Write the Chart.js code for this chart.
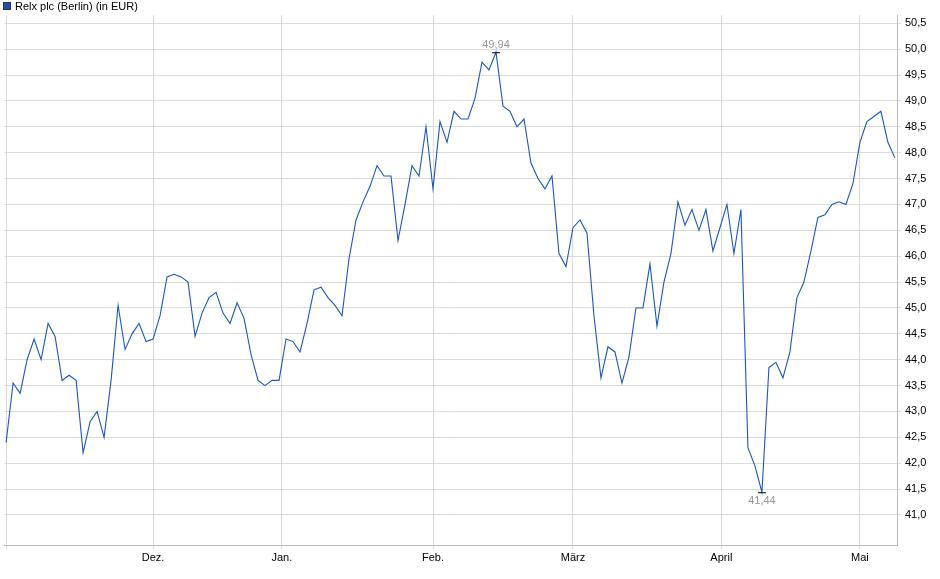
<!DOCTYPE html>
<html><head><meta charset="utf-8">
<script src="https://cdn.jsdelivr.net/npm/chart.js@4/dist/chart.umd.min.js"></script>
<style>html,body{margin:0;padding:0;background:#fff}#w{width:940px;height:579px}</style>
</head><body><div id="w"><canvas id="c"></canvas></div>
<script>
const seriesName = "Relx plc (Berlin) (in EUR)";
const prices = [42.4,43.55,43.35,44.0,44.4,44.0,44.7,44.45,43.6,43.7,43.6,42.2,42.8,43.0,42.5,43.6,45.05,44.2,44.5,44.7,44.35,44.4,44.85,45.6,45.65,45.6,45.5,44.45,44.9,45.2,45.3,44.9,44.7,45.1,44.8,44.1,43.6,43.5,43.6,43.6,44.4,44.35,44.15,44.7,45.35,45.4,45.2,45.05,44.85,45.95,46.7,47.05,47.35,47.75,47.55,47.55,46.3,47.0,47.75,47.55,48.5,47.3,48.6,48.2,48.8,48.65,48.65,49.05,49.75,49.6,49.94,48.9,48.8,48.5,48.65,47.8,47.5,47.3,47.55,46.05,45.8,46.55,46.7,46.45,44.85,43.65,44.25,44.15,43.55,44.05,45.0,45.0,45.85,44.65,45.5,46.05,47.05,46.6,46.9,46.5,46.9,46.1,46.55,47.0,46.05,46.9,42.3,41.95,41.44,43.85,43.95,43.65,44.15,45.2,45.5,46.1,46.75,46.8,47.0,47.05,47.0,47.4,48.2,48.6,48.7,48.8,48.2,47.9];
const monthLabels = ["","Dez.","Jan.","Feb.","März","April","Mai"];
const monthIndex = [0,21,39.4,61,81,102.2,122];
const yTicks = [41.0,41.5,42.0,42.5,43.0,43.5,44.0,44.5,45.0,45.5,46.0,46.5,47.0,47.5,48.0,48.5,49.0,49.5,50.0,50.5];
const maxLabel = "49,94", minLabel = "41,44";
const FONT = "'Liberation Sans', Arial, sans-serif";

const pts = prices.map((v,i)=>({x:i,y:v}));
const extremes = {
  id:'extremes',
  afterDatasetsDraw(ch){
    const ctx=ch.ctx, xs=ch.scales.x, ys=ch.scales.y;
    const iMax=prices.indexOf(Math.max(...prices)), iMin=prices.indexOf(Math.min(...prices));
    ctx.save();
    ctx.font="11px "+FONT; ctx.textAlign='center'; ctx.fillStyle='#999';
    ctx.strokeStyle='#000'; ctx.lineWidth=1;
    let x=xs.getPixelForValue(iMax), y=ys.getPixelForValue(prices[iMax]);
    ctx.beginPath(); ctx.moveTo(x-4,y+0.5); ctx.lineTo(x+4,y+0.5); ctx.stroke();
    ctx.textBaseline='bottom'; ctx.fillText(maxLabel,x,y-2);
    x=xs.getPixelForValue(iMin); y=ys.getPixelForValue(prices[iMin]);
    ctx.beginPath(); ctx.moveTo(x-4,y+0.5); ctx.lineTo(x+4,y+0.5); ctx.stroke();
    ctx.textBaseline='top'; ctx.fillText(minLabel,x,y+3);
    ctx.fillStyle='#1f4fb4'; ctx.fillRect(3,2,8,8);
    ctx.strokeStyle='#333'; ctx.strokeRect(3.5,2.5,7,7);
    ctx.fillStyle='#000'; ctx.textAlign='left'; ctx.textBaseline='middle';
    ctx.fillText(seriesName,15,6.5);
    ctx.restore();
  }
};
new Chart(document.getElementById('c'),{
  type:'line',
  data:{datasets:[{data:pts,borderColor:'#1a56c4',borderWidth:1.1,pointRadius:0,tension:0,fill:false}]},
  options:{
    responsive:true,maintainAspectRatio:false,animation:false,
    layout:{padding:{top:15,left:4,bottom:14,right:0}},
    plugins:{legend:{display:false},tooltip:{enabled:false}},
    scales:{
      x:{type:'linear',min:-0.3,max:prices.length-0.7,
        afterBuildTicks(s){s.ticks=monthIndex.map(v=>({value:v}));},
        afterFit(s){s.height=20;},
        ticks:{autoSkip:false,maxRotation:0,color:'#000',font:{family:FONT,size:11},padding:2,
          callback(v){const k=monthIndex.indexOf(v);return k>=0?monthLabels[k]:'';}},
        grid:{color:'#dcdcdc',drawTicks:true,tickLength:4},border:{color:'#bbb'}},
      y:{position:'right',min:40.42,max:50.66,
        afterBuildTicks(s){s.ticks=yTicks.map(v=>({value:v}));},
        afterFit(s){s.width=43;},
        ticks:{color:'#000',font:{family:FONT,size:11},padding:4,
          callback:v=>v.toFixed(1).replace('.',',')},
        grid:{color:'#dcdcdc',tickLength:4},border:{color:'#bbb'}}
    }
  },
  plugins:[extremes]
});
</script></body></html>
